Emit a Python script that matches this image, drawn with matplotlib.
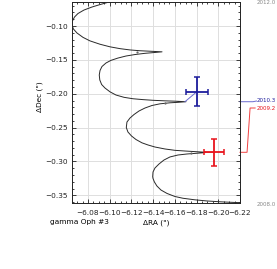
import matplotlib
matplotlib.use("Agg")
import matplotlib.pyplot as plt
from matplotlib.ticker import MultipleLocator, FuncFormatter

# ---- data ----
orbit_ra = [-6.2200, -6.2108, -6.2016, -6.1896, -6.1785, -6.1675, -6.1601, -6.1528,
            -6.1472, -6.1435, -6.1412, -6.1399, -6.1396,
            -6.1399, -6.1417, -6.1454, -6.1500, -6.1555, -6.1629, -6.1712, -6.1795,
            -6.1878, -6.1887,
            -6.1785, -6.1693, -6.1601, -6.1509, -6.1417, -6.1353, -6.1297, -6.1242,
            -6.1201, -6.1168, -6.1153,
            -6.1159, -6.1187, -6.1224, -6.1270, -6.1325, -6.1389, -6.1463, -6.1555,
            -6.1629, -6.1703,
            -6.1601, -6.1509, -6.1399, -6.1307, -6.1214, -6.1132, -6.1058, -6.1003,
            -6.0957, -6.0926, -6.0909, -6.0904,
            -6.0911, -6.0929, -6.0966, -6.1012, -6.1076, -6.1150, -6.1233, -6.1325,
            -6.1399, -6.1482,
            -6.1371, -6.1279, -6.1187, -6.1095, -6.1003, -6.0911, -6.0818, -6.0754,
            -6.0699, -6.0666, -6.0653, -6.0657, -6.0676, -6.0708, -6.0763, -6.0837,
            -6.0911, -6.0993]
orbit_dec = [-0.3609, -0.3603, -0.3596, -0.3584, -0.3567, -0.3544, -0.3518, -0.3473,
             -0.3422, -0.3363, -0.3304, -0.3252, -0.3225,
             -0.3156, -0.3097, -0.3038, -0.2979, -0.2934, -0.2905, -0.2890, -0.2880,
             -0.2870, -0.2865,
             -0.2855, -0.2846, -0.2836, -0.2816, -0.2787, -0.2757, -0.2725, -0.2676,
             -0.2624, -0.2565, -0.2499,
             -0.2418, -0.2359, -0.2307, -0.2255, -0.2211, -0.2174, -0.2149, -0.2134,
             -0.2127, -0.2118,
             -0.2110, -0.2105, -0.2097, -0.2087, -0.2074, -0.2053, -0.2019, -0.1972,
             -0.1916, -0.1864, -0.1797, -0.1724,
             -0.1657, -0.1598, -0.1546, -0.1507, -0.1473, -0.1443, -0.1421, -0.1403,
             -0.1393, -0.1381,
             -0.1372, -0.1365, -0.1353, -0.1334, -0.1307, -0.1269, -0.1219, -0.1167,
             -0.1103, -0.1044, -0.0985, -0.0926, -0.0867, -0.0815, -0.0764, -0.0719,
             -0.0683, -0.0646]
year_ra = [-6.1749, -6.1509, -6.1249]
year_dec = [-0.2882, -0.2133, -0.1380]

obs_labels = ["2009.2", "2010.3"]
obs_ra = [-6.1963, -6.1801]
obs_dec = [-0.2867, -0.1972]
obs_ra_err = [0.0091, 0.0100]
obs_dec_err = [0.0197, 0.0214]
pred_ra = [-6.1878, -6.1693]
pred_dec = [-0.2865, -0.2118]
obs_colors = ["#e8141c", "#1c1c9c"]
link_colors = ["#f04040", "#6a6ad0"]

xticks = [-6.08, -6.10, -6.12, -6.14, -6.16, -6.18, -6.20, -6.22]
yticks = [-0.35, -0.30, -0.25, -0.20, -0.15, -0.10]
epoch_start, epoch_end = "2008.0", "2012.0"
star_name = "gamma Oph #3"

# ---- figure ----
W, H = 277, 269
fig = plt.figure(figsize=(W / 100, H / 100), dpi=100)
L, R, T, B = 72, 240, 2, 203
ax = fig.add_axes([L / W, 1 - B / H, (R - L) / W, (B - T) / H])

fs = 5.3
ax.set_xlim(-6.0653, -6.2200)
ax.set_ylim(-0.3614, -0.0645)
ax.set_xticks(xticks)
ax.set_yticks(yticks)
ax.xaxis.set_minor_locator(MultipleLocator(0.005))
ax.yaxis.set_minor_locator(MultipleLocator(0.01))
fmt = FuncFormatter(lambda v, p: f"{v:.2f}".replace("-", "\u2212"))
ax.xaxis.set_major_formatter(fmt)
ax.yaxis.set_major_formatter(fmt)
ax.tick_params(which="both", direction="in", top=True, right=True,
               labelsize=fs, colors="#222222", width=0.6)
ax.tick_params(which="major", length=3.2)
ax.tick_params(which="minor", length=1.6)
ax.tick_params(axis="x", which="major", pad=5)
ax.tick_params(axis="y", which="major", pad=3)
for s in ax.spines.values():
    s.set_linewidth(0.7)
    s.set_color("#222222")
ax.grid(True, which="major", color="#dedede", lw=0.7)
ax.set_axisbelow(True)

ax.plot(orbit_ra, orbit_dec, color="#2a2a2a", lw=0.7, zorder=3)
ax.plot(year_ra, year_dec, "o", color="#666666", ms=1.6, mec="none", zorder=4)

for i in range(len(obs_ra)):
    ax.plot([pred_ra[i], obs_ra[i]], [pred_dec[i], obs_dec[i]],
            color=link_colors[i], lw=0.7, zorder=4)
    ax.errorbar(obs_ra[i], obs_dec[i], xerr=obs_ra_err[i], yerr=obs_dec_err[i],
                fmt="none", ecolor=obs_colors[i], elinewidth=1.3, capsize=2.2,
                capthick=1.1, zorder=5)

ax.set_ylabel('\u0394Dec (")', fontsize=fs)
ax.yaxis.set_label_coords(-0.173, 0.53)
ax.set_xlabel('\u0394RA (")', fontsize=fs)
ax.xaxis.set_label_coords(0.5, -0.082)
fig.text(50 / W, 1 - 222 / H, star_name, fontsize=fs, ha="left", va="center")

# epoch scale annotations on the right
sfs = 4.0
fig.text(257 / W, 1 - 3 / H, epoch_end, fontsize=sfs, color="#888888", va="center")
fig.text(257 / W, 1 - 204 / H, epoch_start, fontsize=sfs, color="#888888", va="center")

label_y = [108, 101]
for i in range(len(obs_ra)):
    ly = (B - label_y[i]) / (B - T)
    y0 = ax.transLimits.transform((0, pred_dec[i]))[1]
    if i == 0:
        xs, ys = [1.0, 1.042, 1.060, 1.090], [y0, y0, ly, ly]
    else:
        xs, ys = [1.0, 1.077, 1.098], [y0, y0, ly]
    ax.plot(xs, ys, transform=ax.transAxes, color=link_colors[i], lw=0.7,
            clip_on=False)
    fig.text(257 / W, 1 - label_y[i] / H, obs_labels[i], fontsize=sfs,
             color=obs_colors[i], va="center", ha="left")

fig.savefig("out.png", dpi=100)
